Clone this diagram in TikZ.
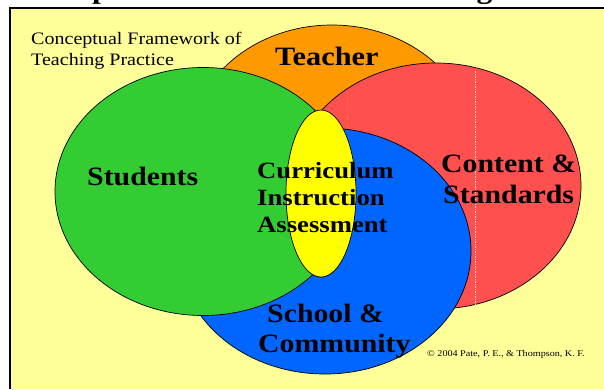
\documentclass[tikz,border=0pt]{standalone}
\usepackage{fontspec}
\setmainfont{Liberation Serif}
\definecolor{paper}{HTML}{FFFF99}
\definecolor{cTeacher}{HTML}{FF9900}
\definecolor{cContent}{HTML}{FF5050}
\definecolor{cSchool}{HTML}{0066FF}
\definecolor{cStudents}{HTML}{33CC33}
\definecolor{cCore}{HTML}{FFFF00}
\newcommand{\wideText}[1]{\scalebox{1.145}[1]{#1}}
\newcommand{\wideBig}[1]{\scalebox{1.125}[1]{#1}}
\tikzset{
  petal/.style={draw=black,line width=0.7pt},
  big/.style={anchor=base west,inner sep=0pt,font=\fontsize{26.5}{26.5}\selectfont\bfseries,text=black},
  mid/.style={anchor=base west,inner sep=0pt,font=\fontsize{23.3}{23.3}\selectfont\bfseries,text=black},
  plain/.style={anchor=base west,inner sep=0pt,font=\fontsize{17.5}{17.5}\selectfont,text=black},
  tiny/.style={anchor=base west,inner sep=0pt,font=\fontsize{8.85}{8.85}\selectfont,text=black},
  seam/.style={line width=0.3pt,dash pattern=on 1.5pt off 1pt}
}
\begin{document}
\begin{tikzpicture}[x=1pt,y=-1pt]
\useasboundingbox (0,0) rectangle (604,389);
\clip (0,0) rectangle (604,389);
\fill[white] (0,0) rectangle (604,389);
\fill[paper] (9,8) rectangle (604,389);
\draw[black,line width=2pt] (10,389) -- (10,8) -- (604,8);
\node[anchor=base west,inner sep=0pt,font=\fontsize{27.5}{27.5}\selectfont\bfseries] (title) at (8,-1.5) {\wideText{Conceptual Framework of Teaching}};
\draw[petal,fill=cTeacher] (332,149) ellipse [x radius=143,y radius=124];
\draw[petal,fill=cContent] (436,186) ellipse [x radius=145,y radius=123];
\draw[seam,draw=cTeacher!40!cContent] (347,92) -- (347,128);
\draw[seam,draw=white!70!cContent] (475,71) -- (475,306);
\draw[petal,fill=cSchool] (325,251) ellipse [x radius=146,y radius=123];
\draw[petal,fill=cStudents] (203,191.5) ellipse [x radius=148,y radius=124];
\draw[petal,fill=cCore] (321,193.5) ellipse [x radius=35,y radius=83.5];
\node[plain] (frameworkA) at (31,44) {\wideText{Conceptual Framework of}};
\node[plain] (frameworkB) at (31,65) {\wideText{Teaching Practice}};
\node[big] (teacher) at (275,65) {\wideText{Teacher}};
\node[big] (students) at (87,185) {\wideBig{Students}};
\node[mid] (curr) at (257,178) {\wideText{Curriculum}};
\node[mid] (inst) at (257,205) {\wideText{Instruction}};
\node[mid] (asse) at (257,232) {\wideText{Assessment}};
\node[big] (content) at (441,172) {\wideBig{Content \&}};
\node[big] (standards) at (443,203) {\wideBig{Standards}};
\node[big] (school) at (267,322) {\wideBig{School \&}};
\node[big] (community) at (258,352) {\wideBig{Community}};
\node[tiny] (copy) at (427,356) {\wideText{© 2004 Pate, P. E., \& Thompson, K. F.}};
\end{tikzpicture}
\end{document}
